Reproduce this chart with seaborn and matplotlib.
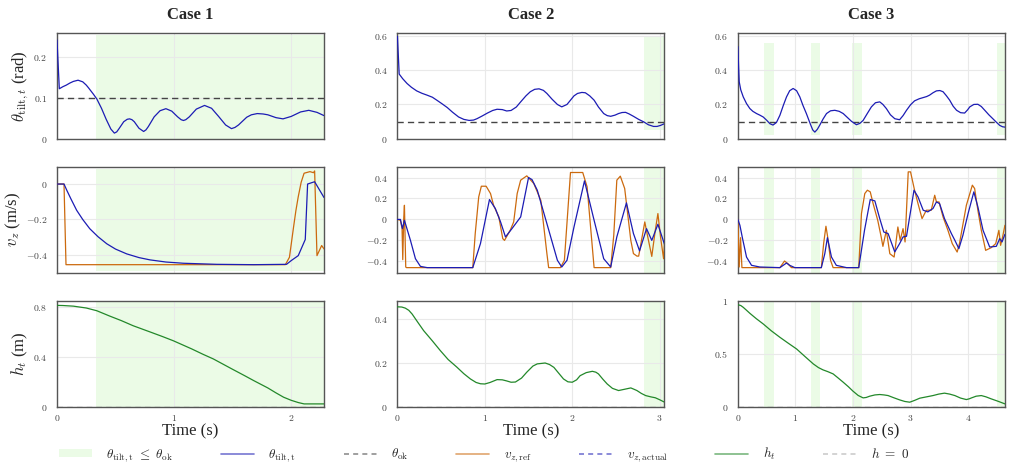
import numpy as np
import matplotlib
matplotlib.use('Agg')
import matplotlib.pyplot as plt
from matplotlib.ticker import MultipleLocator, FuncFormatter
from matplotlib.lines import Line2D
from matplotlib.patches import Patch
import seaborn as sns

# values, (time s, value)
theta_1 = [(0.00, 0.243), (0.02, 0.123), (0.05, 0.128), (0.08, 0.132), (0.11, 0.137), (0.14, 0.141),
           (0.18, 0.144), (0.22, 0.140), (0.25, 0.132), (0.27, 0.125), (0.31, 0.110), (0.34, 0.098),
           (0.38, 0.075), (0.42, 0.048), (0.46, 0.024), (0.49, 0.014), (0.51, 0.017), (0.53, 0.025),
           (0.57, 0.042), (0.60, 0.048), (0.62, 0.049), (0.64, 0.047), (0.66, 0.042), (0.70, 0.026),
           (0.74, 0.018), (0.76, 0.022), (0.78, 0.030), (0.83, 0.054), (0.88, 0.069), (0.93, 0.074),
           (0.98, 0.068), (1.03, 0.054), (1.06, 0.047), (1.08, 0.045), (1.10, 0.047), (1.13, 0.054),
           (1.19, 0.073), (1.26, 0.082), (1.32, 0.075), (1.38, 0.055), (1.44, 0.034), (1.49, 0.025),
           (1.52, 0.028), (1.55, 0.034), (1.62, 0.053), (1.66, 0.059), (1.71, 0.062), (1.76, 0.061),
           (1.80, 0.059), (1.87, 0.052), (1.93, 0.049), (2.00, 0.055), (2.08, 0.066), (2.15, 0.070),
           (2.22, 0.065), (2.28, 0.057)]
vz_act_1 = [(0.0, 0.0), (0.06, 0.0), (0.083, -0.034), (0.12, -0.085), (0.168, -0.148), (0.22, -0.2),
            (0.28, -0.252), (0.35, -0.297), (0.425, -0.337), (0.5, -0.367), (0.595, -0.394),
            (0.7, -0.415), (0.795, -0.428), (0.93, -0.44), (1.08, -0.447), (1.365, -0.453),
            (1.68, -0.455), (1.96, -0.453), (2.0, -0.432), (2.06, -0.404), (2.12, -0.313),
            (2.14, 0.0), (2.2, 0.013), (2.28, -0.076)]
vz_ref_1 = [(0.0, 0.0), (0.06, 0.0), (0.077, -0.455), (1.95, -0.455), (1.985, -0.413), (2.0, -0.34),
            (2.02, -0.243), (2.04, -0.15), (2.06, -0.072), (2.085, 0.01), (2.11, 0.061), (2.16, 0.07),
            (2.19, 0.064), (2.20, 0.074), (2.22, -0.404), (2.26, -0.347), (2.28, -0.366)]
h_1 = [(0.0, 0.816), (0.05, 0.815), (0.14, 0.81), (0.25, 0.795), (0.34, 0.773), (0.45, 0.73),
       (0.55, 0.693), (0.65, 0.652), (0.8, 0.60), (0.9, 0.565), (0.995, 0.53), (1.15, 0.465),
       (1.25, 0.42), (1.335, 0.384), (1.5, 0.30), (1.6, 0.25), (1.68, 0.209), (1.8, 0.15),
       (1.87, 0.11), (1.935, 0.075), (2.0, 0.05), (2.06, 0.032), (2.11, 0.021), (2.28, 0.021)]

theta_2 = [(0.0, 0.596), (0.02, 0.377), (0.06, 0.35), (0.11, 0.322), (0.16, 0.30), (0.22, 0.279),
           (0.28, 0.265), (0.34, 0.254), (0.40, 0.242), (0.45, 0.225), (0.51, 0.204), (0.57, 0.182),
           (0.63, 0.155), (0.70, 0.127), (0.76, 0.113), (0.82, 0.107), (0.87, 0.109), (0.91, 0.117),
           (0.97, 0.133), (1.03, 0.150), (1.09, 0.165), (1.14, 0.172), (1.20, 0.170), (1.25, 0.162),
           (1.30, 0.165), (1.36, 0.185), (1.41, 0.215), (1.47, 0.250), (1.52, 0.274), (1.57, 0.288),
           (1.62, 0.291), (1.67, 0.282), (1.71, 0.264), (1.77, 0.230), (1.83, 0.200), (1.88, 0.186),
           (1.94, 0.200), (1.98, 0.225), (2.02, 0.250), (2.06, 0.264), (2.11, 0.270), (2.15, 0.268),
           (2.20, 0.250), (2.25, 0.225), (2.30, 0.185), (2.36, 0.147), (2.40, 0.135), (2.44, 0.131),
           (2.49, 0.138), (2.53, 0.147), (2.57, 0.153), (2.61, 0.154), (2.65, 0.145), (2.70, 0.131),
           (2.76, 0.113), (2.82, 0.098), (2.87, 0.082), (2.93, 0.072), (2.97, 0.072), (3.01, 0.078),
           (3.055, 0.088)]
vz_act_2 = [(0.0, 0.0), (0.034, 0.0), (0.057, -0.088), (0.08, -0.008), (0.149, -0.2), (0.206, -0.375),
            (0.263, -0.448), (0.34, -0.46), (0.862, -0.46), (0.95, -0.23), (1.053, 0.19),
            (1.12, 0.104), (1.18, -0.024), (1.236, -0.167), (1.31, -0.088), (1.41, 0.024),
            (1.50, 0.40), (1.54, 0.38), (1.60, 0.279), (1.71, -0.04), (1.83, -0.39), (1.88, -0.454),
            (1.94, -0.39), (2.02, -0.072), (2.14, 0.368), (2.25, -0.008), (2.36, -0.375),
            (2.44, -0.454), (2.51, -0.167), (2.62, 0.158), (2.70, -0.134), (2.77, -0.30),
            (2.85, -0.088), (2.91, -0.2), (2.98, -0.046), (3.055, -0.237)]
vz_ref_2 = [(0.0, 0.0), (0.034, -0.008), (0.053, -0.088), (0.061, -0.384), (0.072, 0.008),
            (0.08, 0.135), (0.095, -0.454), (0.103, -0.46), (0.862, -0.46), (0.89, -0.135),
            (0.93, 0.215), (0.96, 0.317), (1.015, 0.317), (1.065, 0.247), (1.10, 0.135),
            (1.16, 0.024), (1.205, -0.183), (1.225, -0.2), (1.29, -0.104), (1.33, -0.024),
            (1.37, 0.247), (1.41, 0.375), (1.48, 0.416), (1.56, 0.343), (1.64, 0.183),
            (1.71, -0.326), (1.73, -0.46), (1.865, -0.46), (1.91, -0.39), (1.98, 0.448),
            (2.12, 0.448), (2.17, 0.311), (2.25, -0.46), (2.44, -0.46), (2.475, -0.151),
            (2.51, 0.375), (2.55, 0.413), (2.60, 0.295), (2.67, -0.2), (2.70, -0.326),
            (2.74, -0.35), (2.76, -0.35), (2.83, -0.024), (2.85, -0.11), (2.91, -0.353),
            (2.95, -0.104), (2.98, 0.056), (3.01, -0.167), (3.045, -0.375), (3.055, -0.23)]
h_2 = [(0.0, 0.456), (0.05, 0.455), (0.09, 0.45), (0.13, 0.44), (0.168, 0.423), (0.23, 0.387),
       (0.30, 0.347), (0.40, 0.30), (0.49, 0.256), (0.58, 0.215), (0.68, 0.18), (0.76, 0.15),
       (0.835, 0.126), (0.90, 0.11), (0.95, 0.104), (1.0, 0.103), (1.06, 0.11), (1.14, 0.123),
       (1.20, 0.122), (1.25, 0.117), (1.30, 0.111), (1.35, 0.112), (1.42, 0.13), (1.48, 0.157),
       (1.55, 0.185), (1.60, 0.195), (1.69, 0.199), (1.74, 0.192), (1.79, 0.179), (1.85, 0.15),
       (1.90, 0.126), (1.95, 0.113), (2.0, 0.111), (2.05, 0.122), (2.09, 0.141), (2.16, 0.155),
       (2.23, 0.161), (2.27, 0.157), (2.30, 0.149), (2.35, 0.125), (2.40, 0.103), (2.46, 0.083),
       (2.53, 0.073), (2.60, 0.079), (2.67, 0.085), (2.70, 0.08), (2.74, 0.073), (2.79, 0.06),
       (2.84, 0.05), (2.90, 0.044), (2.95, 0.04), (3.0, 0.031), (3.055, 0.02)]

theta_3 = [(0.0, 0.537), (0.012, 0.42), (0.023, 0.332), (0.05, 0.285), (0.093, 0.244), (0.15, 0.205),
           (0.208, 0.176), (0.26, 0.16), (0.324, 0.147), (0.38, 0.138), (0.44, 0.127), (0.50, 0.108),
           (0.556, 0.088), (0.61, 0.08), (0.67, 0.095), (0.73, 0.137), (0.79, 0.195), (0.845, 0.244),
           (0.90, 0.28), (0.96, 0.293), (1.02, 0.28), (1.076, 0.244), (1.13, 0.195), (1.19, 0.147),
           (1.26, 0.085), (1.30, 0.052), (1.337, 0.039), (1.38, 0.055), (1.42, 0.078), (1.48, 0.115),
           (1.54, 0.147), (1.61, 0.163), (1.684, 0.166), (1.76, 0.16), (1.83, 0.147), (1.90, 0.125),
           (1.973, 0.102), (2.06, 0.082), (2.12, 0.09), (2.176, 0.107), (2.25, 0.148), (2.32, 0.186),
           (2.39, 0.21), (2.465, 0.215), (2.52, 0.20), (2.58, 0.176), (2.65, 0.14), (2.726, 0.117),
           (2.81, 0.111), (2.87, 0.135), (2.93, 0.166), (3.0, 0.198), (3.07, 0.221), (3.15, 0.233),
           (3.22, 0.24), (3.28, 0.246), (3.33, 0.254), (3.39, 0.268), (3.45, 0.279), (3.51, 0.281),
           (3.565, 0.274), (3.62, 0.252), (3.68, 0.225), (3.74, 0.19), (3.80, 0.166), (3.87, 0.152),
           (3.94, 0.15), (3.99, 0.168), (4.03, 0.186), (4.10, 0.2), (4.17, 0.201), (4.23, 0.188),
           (4.29, 0.166), (4.36, 0.14), (4.43, 0.117), (4.49, 0.097), (4.55, 0.078), (4.60, 0.07),
           (4.64, 0.068)]
vz_act_3 = [(0.0, 0.0), (0.035, -0.056), (0.081, -0.183), (0.15, -0.359), (0.237, -0.438),
            (0.38, -0.454), (0.73, -0.46), (0.845, -0.416), (0.90, -0.438), (0.99, -0.46),
            (1.45, -0.46), (1.51, -0.327), (1.556, -0.174), (1.626, -0.359), (1.71, -0.438),
            (1.887, -0.46), (2.10, -0.46), (2.20, -0.104), (2.30, 0.19), (2.38, 0.177),
            (2.465, 0.008), (2.535, -0.12), (2.61, -0.135), (2.726, -0.31), (2.81, -0.231),
            (2.87, -0.167), (2.93, -0.161), (3.06, 0.279), (3.13, 0.215), (3.22, 0.088),
            (3.30, 0.072), (3.39, 0.104), (3.45, 0.167), (3.505, 0.151), (3.59, 0.008),
            (3.71, -0.135), (3.77, -0.199), (3.84, -0.279), (3.91, -0.151), (4.0, 0.056),
            (4.10, 0.263), (4.17, 0.12), (4.26, -0.104), (4.375, -0.263), (4.49, -0.257),
            (4.55, -0.183), (4.59, -0.215), (4.64, -0.142)]
vz_ref_3 = [(0.0, 0.0), (0.023, -0.454), (0.046, -0.174), (0.07, -0.46), (0.73, -0.46), (0.81, -0.397),
            (0.87, -0.423), (0.93, -0.46), (1.45, -0.46), (1.49, -0.231), (1.53, -0.065),
            (1.56, -0.167), (1.61, -0.39), (1.655, -0.46), (2.10, -0.46), (2.147, 0.056),
            (2.205, 0.247), (2.25, 0.279), (2.30, 0.263), (2.35, 0.151), (2.43, -0.008),
            (2.49, -0.167), (2.52, -0.257), (2.58, -0.104), (2.64, -0.327), (2.715, -0.359),
            (2.78, -0.072), (2.82, -0.199), (2.87, -0.088), (2.905, -0.215), (2.96, 0.454),
            (3.0, 0.454), (3.07, 0.279), (3.13, 0.151), (3.20, 0.008), (3.275, 0.088),
            (3.36, 0.088), (3.42, 0.231), (3.45, 0.167), (3.495, 0.167), (3.565, 0.024),
            (3.65, -0.104), (3.725, -0.231), (3.81, -0.311), (3.85, -0.231), (3.97, 0.135),
            (4.074, 0.327), (4.114, 0.295), (4.17, 0.088), (4.23, -0.104), (4.305, -0.295),
            (4.40, -0.27), (4.48, -0.231), (4.535, -0.104), (4.565, -0.247), (4.60, -0.167),
            (4.64, -0.056)]
h_3 = [(0.0, 0.968), (0.05, 0.96), (0.093, 0.943), (0.15, 0.915), (0.208, 0.886), (0.32, 0.835),
       (0.44, 0.785), (0.58, 0.72), (0.73, 0.658), (0.88, 0.60), (1.02, 0.547), (1.16, 0.478),
       (1.31, 0.405), (1.40, 0.37), (1.48, 0.348), (1.56, 0.332), (1.655, 0.31), (1.74, 0.272),
       (1.83, 0.231), (1.92, 0.188), (2.0, 0.146), (2.09, 0.105), (2.176, 0.082), (2.23, 0.086),
       (2.29, 0.098), (2.38, 0.11), (2.465, 0.114), (2.54, 0.11), (2.61, 0.104), (2.71, 0.083),
       (2.81, 0.063), (2.90, 0.048), (2.986, 0.041), (3.07, 0.058), (3.16, 0.079), (3.28, 0.092),
       (3.39, 0.104), (3.49, 0.118), (3.59, 0.127), (3.68, 0.118), (3.77, 0.104), (3.87, 0.08),
       (3.97, 0.066), (4.02, 0.073), (4.06, 0.082), (4.14, 0.098), (4.23, 0.104), (4.31, 0.092),
       (4.40, 0.073), (4.52, 0.05), (4.64, 0.025)]

# intervals where theta_tilt <= theta_ok
ok_spans = [[(0.333, 2.28)], [(2.826, 3.055)], [(0.45, 0.62), (1.27, 1.435), (1.985, 2.165), (4.50, 4.64)]]
t_end = [2.28, 3.055, 4.64]
theta_ok = 0.1

cases = ['Case 1', 'Case 2', 'Case 3']
thetas = [theta_1, theta_2, theta_3]
vz_acts = [vz_act_1, vz_act_2, vz_act_3]
vz_refs = [vz_ref_1, vz_ref_2, vz_ref_3]
hs = [h_1, h_2, h_3]

# axis setup per row / column
ylims = [[(0, 0.26), (0, 0.616), (0, 0.616)],
         [(-0.5, 0.097), (-0.508, 0.502), (-0.508, 0.502)],
         [(0, 0.854), (0, 0.484), (0, 1.006)]]
ysteps = [[0.1, 0.2, 0.2], [0.2, 0.2, 0.2], [0.4, 0.2, 0.5]]
span_y = [[(0, 0.255), (0.05, 0.60), (0.02, 0.56)],
          [(-0.49, 0.084), (-0.508, 0.496), (-0.508, 0.502)],
          [(-0.02, 0.854), (-0.01, 0.484), (-0.03, 1.006)]]

BLUE = '#1c1cb4'
ORANGE = '#cc6a0e'
GREEN = '#23882a'
OKGREEN = '#ebfbe6'

sns.set_theme(style='whitegrid')
plt.rcParams['font.family'] = ['Liberation Serif', 'DejaVu Serif']
plt.rcParams['mathtext.fontset'] = 'cm'

fig, axes = plt.subplots(3, 3, figsize=(10.12, 4.68), dpi=100)
fig.subplots_adjust(left=0.0563, right=0.993, top=0.9295, bottom=0.1314, wspace=0.275, hspace=0.265)


def fmt(v, pos):
    s = f'{v:g}'
    if s == '-0':
        s = '0'
    return f'${s}$'


for c in range(3):
    for r in range(3):
        ax = axes[r, c]
        ax.set_facecolor('white')
        lo, hi = span_y[r][c]
        for a, b in ok_spans[c]:
            ax.fill_between([a, b], lo, hi, color=OKGREEN, lw=0, zorder=0.5)
        ax.set_xlim(0, t_end[c])
        ax.set_ylim(*ylims[r][c])
        ax.xaxis.set_major_locator(MultipleLocator(1))
        ax.yaxis.set_major_locator(MultipleLocator(ysteps[r][c]))
        ax.xaxis.set_major_formatter(FuncFormatter(fmt))
        ax.yaxis.set_major_formatter(FuncFormatter(fmt))
        ax.grid(True, color='#e9e9e9', lw=0.8)
        ax.set_axisbelow(True)
        for sp in ax.spines.values():
            sp.set_visible(True)
            sp.set_color('#555555')
            sp.set_linewidth(1.0)
        ax.tick_params(direction='out', length=6, width=0.8, color='#555555',
                       labelsize=7, labelcolor='#444444', pad=1)
        ax.tick_params(axis='x', pad=-1)
        if r < 2:
            ax.tick_params(labelbottom=False)

    ax = axes[0, c]
    d = np.array(thetas[c]).T
    sns.lineplot(x=d[0], y=d[1], ax=ax, color=BLUE, lw=0.9, estimator=None, sort=False, zorder=3)
    ax.axhline(theta_ok, color='#444444', lw=1.0, ls=(0, (4.5, 3)), zorder=2)
    ax.set_title(cases[c], fontweight='bold', fontsize=12, pad=10)

    ax = axes[1, c]
    d = np.array(vz_refs[c]).T
    sns.lineplot(x=d[0], y=d[1], ax=ax, color=ORANGE, lw=0.9, estimator=None, sort=False, zorder=3)
    d = np.array(vz_acts[c]).T
    sns.lineplot(x=d[0], y=d[1], ax=ax, color=BLUE, lw=0.9, estimator=None, sort=False, zorder=4)

    ax = axes[2, c]
    ax.axhline(0, color='#aaaaaa', lw=1.0, ls=(0, (4, 3)), zorder=2)
    d = np.array(hs[c]).T
    sns.lineplot(x=d[0], y=d[1], ax=ax, color=GREEN, lw=0.9, estimator=None, sort=False, zorder=3)

for ax in axes.flat:
    ax.set_xlabel('')
    ax.set_ylabel('')
for ax in axes[2]:
    ax.set_xlabel('Time (s)', fontsize=12, labelpad=0)

axes[0, 0].set_ylabel(r'$\theta_{\mathrm{tilt},t}$ (rad)', fontsize=12, labelpad=2)
axes[1, 0].set_ylabel(r'$v_z$ (m/s)', fontsize=12, labelpad=2)
axes[2, 0].set_ylabel(r'$h_t$ (m)', fontsize=12, labelpad=2)

handles = [
    Patch(facecolor=OKGREEN, edgecolor='none'),
    Line2D([], [], color=BLUE, lw=1.2, alpha=0.6),
    Line2D([], [], color='#444444', lw=1.2, ls=(0, (3, 2.5)), alpha=0.6),
    Line2D([], [], color=ORANGE, lw=1.2, alpha=0.6),
    Line2D([], [], color=BLUE, lw=1.2, ls=(0, (3, 2.5)), alpha=0.6),
    Line2D([], [], color=GREEN, lw=1.2, alpha=0.6),
    Line2D([], [], color='#aaaaaa', lw=1.2, ls=(0, (3, 2.5)), alpha=0.6),
]
labels = [r'$\theta_{\mathrm{tilt,t}}\ \leq\ \theta_{\mathrm{ok}}$', r'$\theta_{\mathrm{tilt,t}}$',
          r'$\theta_{\mathrm{ok}}$', r'$v_{z,\mathrm{ref}}$', r'$v_{z,\mathrm{actual}}$',
          r'$h_t$', r'$h\ =\ 0$']
fig.legend(handles, labels, loc='center', bbox_to_anchor=(0.478, 0.028), ncol=7, frameon=False,
           fontsize=9.5, handlelength=2.5, handleheight=0.5, columnspacing=3.6, handletextpad=1.1)

fig.savefig('out.png', dpi=100)
